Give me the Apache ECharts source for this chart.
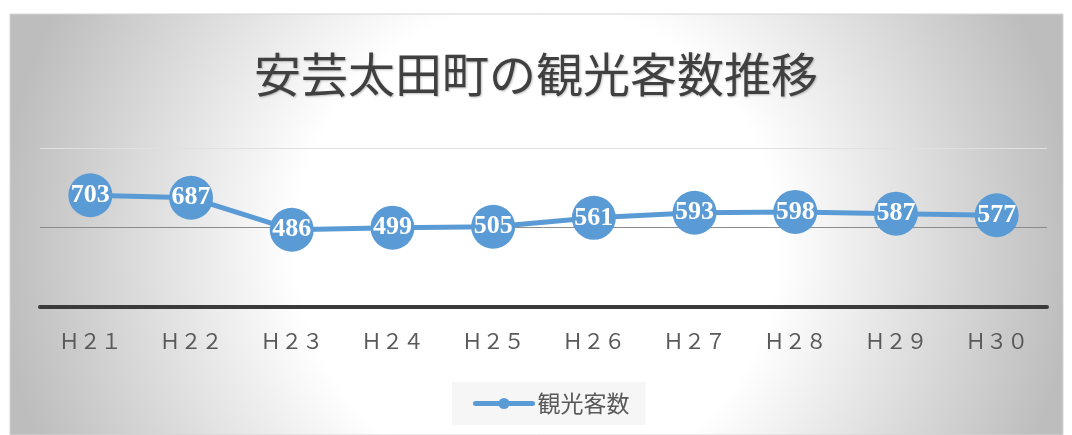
<!DOCTYPE html>
<html><head><meta charset="utf-8">
<script src="https://cdn.jsdelivr.net/npm/echarts@6/dist/echarts.min.js"></script>
<style>html,body{margin:0;padding:0;background:#fff}#c{width:1072px;height:435px}</style>
</head><body><div id="c"></div>
<script>
var titleText = '安芸太田町の観光客数推移';
var seriesName = '観光客数';
var categories = ['Ｈ２１','Ｈ２２','Ｈ２３','Ｈ２４','Ｈ２５','Ｈ２６','Ｈ２７','Ｈ２８','Ｈ２９','Ｈ３０'];
var visitors = [703, 687, 486, 499, 505, 561, 593, 598, 587, 577];

var chart = echarts.init(document.getElementById('c'), null, {renderer: 'canvas'});
chart.setOption({
  backgroundColor: '#ffffff',
  animation: false,
  graphic: [{
    type: 'rect', silent: true, z: -10,
    shape: {x: 10, y: 14, width: 1053, height: 421},
    style: {
      fill: new echarts.graphic.RadialGradient(0.5, 0.55, 1.27, [
        {offset: 0, color: '#ffffff'},
        {offset: 0.45, color: '#ffffff'},
        {offset: 1, color: '#bdbdbd'}
      ]),
      stroke: '#d4d4d4', lineWidth: 1
    }
  }],
  title: {
    text: titleText, left: 'center', top: 46,
    textStyle: {fontFamily: 'Noto Sans CJK JP', fontSize: 47, fontWeight: 'normal', color: '#404040',
      textShadowColor: 'rgba(0,0,0,0.25)', textShadowBlur: 2, textShadowOffsetX: 1, textShadowOffsetY: 1}
  },
  legend: {
    data: [seriesName], left: 452, top: 382,
    padding: [10, 16, 10, 21],
    backgroundColor: '#f6f6f6',
    itemWidth: 57, itemHeight: 14,
    lineStyle: {width: 5, cap: 'round'},
    textStyle: {fontFamily: 'Noto Sans CJK JP', fontSize: 23, color: '#595959'}
  },
  grid: {left: 40, right: 25, top: 148, bottom: 128},
  xAxis: {
    type: 'category', data: categories, boundaryGap: true,
    axisLine: {lineStyle: {color: '#3a3a3a', width: 4}},
    axisTick: {show: false},
    axisLabel: {margin: 26, fontFamily: 'Liberation Serif, Noto Sans CJK JP', fontSize: 21, color: '#595959'}
  },
  yAxis: {
    type: 'value', min: 0, max: 1000, interval: 500,
    axisLabel: {show: false}, axisLine: {show: false}, axisTick: {show: false},
    splitLine: {lineStyle: {color: ['#8c8c8c', '#8c8c8c', '#e0e0e0'], width: 1}}
  },
  series: [{
    name: seriesName, type: 'line', data: visitors,
    symbol: 'circle', symbolSize: 44,
    itemStyle: {color: '#5B9BD5'},
    lineStyle: {color: '#5B9BD5', width: 5},
    label: {show: true, position: 'inside', color: '#ffffff',
      fontFamily: 'Liberation Serif', fontSize: 26, fontWeight: 'bold'}
  }]
});
</script></body></html>
